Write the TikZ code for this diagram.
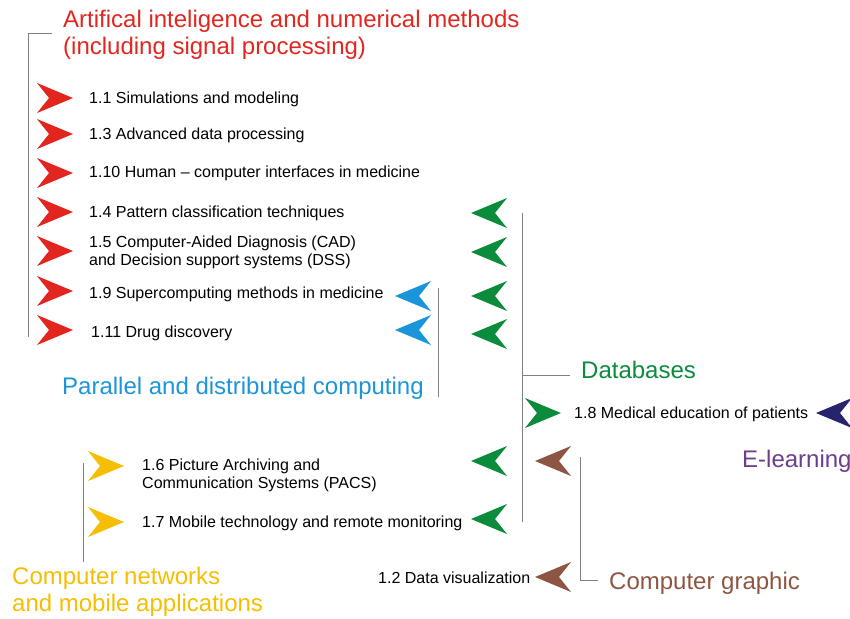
\documentclass[tikz,border=0pt]{standalone}
\usepackage{fontspec}
\setmainfont{Liberation Sans}
\usetikzlibrary{positioning}
\definecolor{aired}{HTML}{E2261F}
\definecolor{parblue}{HTML}{1B95D9}
\definecolor{dbgreen}{HTML}{0A8C3C}
\definecolor{elnavy}{HTML}{27246E}
\definecolor{elpurple}{HTML}{6B3E8E}
\definecolor{cgbrown}{HTML}{8E5642}
\definecolor{netyellow}{HTML}{F6BE00}
\definecolor{brkline}{HTML}{808080}
\tikzset{
  item/.style    = {anchor=west, inner sep=0pt, align=left, text=black,
                    font=\fontsize{16}{18}\selectfont},
  group/.style   = {anchor=west, inner sep=0pt, align=left,
                    font=\fontsize{24}{27.5}\selectfont},
  bracket/.style = {draw=brkline, line width=0.9pt},
  dartR/.pic     = {\fill (-18,-15) -- (18,0) -- (-18,15) -- (-6,0) -- cycle;},
  dartL/.pic     = {\fill (18,-15) -- (-18,0) -- (18,15) -- (6,0) -- cycle;},
}
\begin{document}
\begin{tikzpicture}[x=1pt, y=-1pt]
    \useasboundingbox (0,0) rectangle (850,618);
    % group titles
    \node[group, text=aired]     (ai)  at (63,35)  {Artifical inteligence and numerical methods\\(including signal processing)};
    \node[group, text=parblue]   (par) at (62,388) {Parallel and distributed computing};
    \node[group, text=dbgreen]   (db)  at (581,370) {Databases};
    \node[group, text=elpurple]  (el)  at (742,461) {E-learning};
    \node[group, text=cgbrown]   (cg)  at (609,583) {Computer graphic};
    \node[group, text=netyellow] (net) at (12,592) {Computer networks\\and mobile applications};
    % topics
    \node[item] (s11)  at (89,99)  {1.1 Simulations and modeling};
    \node[item] (s13)  at (89,135) {1.3 Advanced data processing};
    \node[item] (s110) at (89,173) {1.10 Human -- computer interfaces in medicine};
    \node[item] (s14)  at (89,213) {1.4 Pattern classification techniques};
    \node[item] (s15)  at (89,252) {1.5 Computer-Aided Diagnosis (CAD)\\and Decision support systems (DSS)};
    \node[item] (s19)  at (89,294) {1.9 Supercomputing methods in medicine};
    \node[item] (s111) at (91,333) {1.11 Drug discovery};
    \node[item] (s18)  at (574,414) {1.8 Medical education of patients};
    \node[item] (s16)  at (142,475) {1.6 Picture Archiving and\\Communication Systems (PACS)};
    \node[item] (s17)  at (142,523) {1.7 Mobile technology and remote monitoring};
    \node[item] (s12)  at (378,578) {1.2 Data visualization};
    % arrows
    \begin{scope}[fill=aired]
        \pic at (55,98)  {dartR};
        \pic at (55,134) {dartR};
        \pic at (55,173) {dartR};
        \pic at (55,212) {dartR};
        \pic at (55,251) {dartR};
        \pic at (55,291) {dartR};
        \pic at (55,330) {dartR};
    \end{scope}
    \begin{scope}[fill=parblue]
        \pic at (413,296) {dartL};
        \pic at (413,330) {dartL};
    \end{scope}
    \begin{scope}[fill=dbgreen]
        \pic at (489,213) {dartL};
        \pic at (489,252) {dartL};
        \pic at (489,296) {dartL};
        \pic at (489,334) {dartL};
        \pic at (489,461) {dartL};
        \pic at (489,519) {dartL};
        \pic at (543,413) {dartR};
    \end{scope}
    \pic[fill=elnavy] at (834,413) {dartL};
    \begin{scope}[fill=cgbrown]
        \pic at (553,461) {dartL};
        \pic at (553,577) {dartL};
    \end{scope}
    \begin{scope}[fill=netyellow]
        \pic at (106,466) {dartR};
        \pic at (106,522) {dartR};
    \end{scope}
    % brackets
    \draw[bracket] (52,33) -- (28,33) -- (28,337);
    \draw[bracket] (438,288) -- (438,397);
    \draw[bracket] (522,213) -- (522,522);
    \draw[bracket] (522,375) -- (570,375);
    \draw[bracket] (580,457) -- (580,580) -- (598,580);
    \draw[bracket] (83,463) -- (83,562);
\end{tikzpicture}
\end{document}
